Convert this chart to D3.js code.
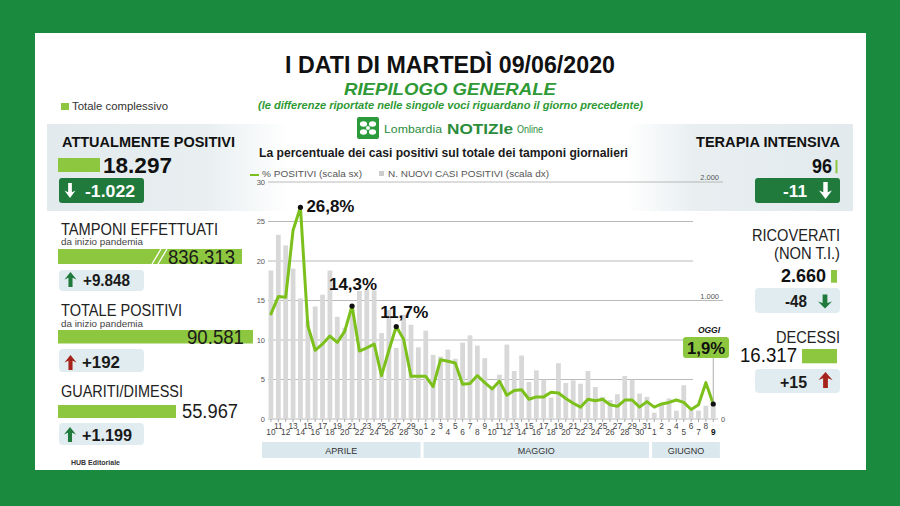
<!DOCTYPE html>
<html>
<head>
<meta charset="utf-8">
<script src="https://cdn.jsdelivr.net/npm/d3@7"></script>
<style>
  body { margin: 0; background: #1a8a3e; }
  svg { display: block; font-family: "Liberation Sans", Arial, sans-serif; }
</style>
</head>
<body>
<svg id="chart" width="900" height="506"></svg>
<script>
// day labels 10 apr -> 9 jun
const days = [10,11,12,13,14,15,16,17,18,19,20,21,22,23,24,25,26,27,28,29,30,
  1,2,3,4,5,6,7,8,9,10,11,12,13,14,15,16,17,18,19,20,21,22,23,24,25,26,27,28,29,30,31,
  1,2,3,4,5,6,7,8,9];

// new positive cases (right scale)
const newCases = [1253,1554,1465,1269,1018,829,949,1049,1253,862,770,963,1080,1095,1085,725,920,600,880,795,605,
  745,541,527,586,508,644,706,619,513,275,374,628,405,536,312,410,332,181,471,304,326,298,405,270,187,160,209,363,332,215,187,
  53,131,173,70,285,75,70,112,115];

// % positives on daily swabs (left scale)
const pctPositive = [13.3,15.5,15.4,23.9,26.8,11.8,8.7,9.5,10.5,9.7,11.1,14.3,8.6,9.0,9.5,5.5,8.7,11.7,10.1,5.4,5.4,
  5.4,4.1,7.5,7.3,7.1,4.4,4.5,5.5,4.6,3.8,4.8,3.0,3.6,3.7,2.5,2.8,2.8,3.4,3.3,2.6,2.0,1.5,2.5,2.3,2.5,1.8,1.6,2.4,2.4,1.5,2.2,
  1.5,1.9,2.1,2.4,2.1,1.2,1.8,4.6,1.9];

const months = ['APRILE', 'MAGGIO', 'GIUGNO'];
const monthFirst = [0, 21, 52];
const monthLast = [20, 51, 60];

const leftTicks = [0, 5, 10, 15, 20, 25, 30];
const rightTicks = [0, 1000, 2000];

const peaks = [4, 11, 17];
const peakLabels = ['26,8%', '14,3%', '11,7%'];

const svg = d3.select('#chart');
const it = d3.formatLocale({decimal: ',', thousands: '.', grouping: [3], currency: ['', '€']});
const fmt = it.format(',d');

const LIME = '#8dc63f', DARK = '#1f7a3c', RED = '#a5231b', LIGHT = '#e0ecef';

function txt(g, x, y, s, o) {
  const t = g.append('text').attr('x', x).attr('y', y).text(s);
  for (const k in o) t.attr(k, o[k]);
  return t;
}

// arrow: dir 1 = up, -1 = down
function arrow(g, cx, cy, dir, color, w, h) {
  const hw = w / 2, sw = w * 0.17, hh = h * 0.5;
  const pts = [[0, -h/2], [hw, -h/2 + hh], [sw, -h/2 + hh*0.78], [sw, h/2],
               [-sw, h/2], [-sw, -h/2 + hh*0.78], [-hw, -h/2 + hh]];
  g.append('path')
    .attr('d', 'M' + pts.map(p => [cx + p[0], cy + p[1] * dir].join(',')).join('L') + 'Z')
    .attr('fill', color);
}

// white card
svg.append('rect').attr('x', 35).attr('y', 33).attr('width', 831).attr('height', 437).attr('fill', '#fff');

// grey band behind the top boxes
const defs = svg.append('defs');
const grad = defs.append('linearGradient').attr('id', 'band');
[[0, '#e2eaed'], [0.2, '#e9eff1'], [0.3, '#fff'], [0.72, '#fff'], [0.8, '#e9eff1'], [1, '#e2eaed']]
  .forEach(s => grad.append('stop').attr('offset', s[0]).attr('stop-color', s[1]));
svg.append('rect').attr('x', 47).attr('y', 124).attr('width', 806).attr('height', 87).attr('fill', 'url(#band)');

// titles
txt(svg, 285, 72.5, 'I DATI DI MARTEDÌ 09/06/2020', {'font-size': 23, 'font-weight': 'bold', fill: '#111', textLength: 330, lengthAdjust: 'spacingAndGlyphs'});
txt(svg, 344, 95, 'RIEPILOGO GENERALE', {'font-size': 17, 'font-weight': 'bold', 'font-style': 'italic', fill: '#2f9a35', textLength: 212, lengthAdjust: 'spacingAndGlyphs'});
txt(svg, 258, 109, '(le differenze riportate nelle singole voci riguardano il giorno precedente)', {'font-size': 10.5, 'font-weight': 'bold', 'font-style': 'italic', fill: '#2f9a35', textLength: 385, lengthAdjust: 'spacingAndGlyphs'});

// logo
svg.append('rect').attr('x', 357).attr('y', 117).attr('width', 22).attr('height', 22).attr('rx', 2).attr('fill', '#2b9a3a');
[[-4.5, -4], [4.5, -4], [-4.5, 4], [4.5, 4]].forEach(o => {
  svg.append('ellipse').attr('cx', 368 + o[0]).attr('cy', 128 + o[1]).attr('rx', 3.6).attr('ry', 2.8).attr('fill', '#fff');
});
svg.append('circle').attr('cx', 368).attr('cy', 128).attr('r', 2).attr('fill', '#fff');
txt(svg, 384, 133, 'Lombardia', {'font-size': 11.5, fill: '#2b8c3c', textLength: 58, lengthAdjust: 'spacingAndGlyphs'});
txt(svg, 447, 133.5, 'NOTIZIe', {'font-size': 14, 'font-weight': 'bold', fill: '#2b8c3c', textLength: 66, lengthAdjust: 'spacingAndGlyphs'});
txt(svg, 517, 133, 'Online', {'font-size': 11, fill: '#2b8c3c', textLength: 26, lengthAdjust: 'spacingAndGlyphs'});

txt(svg, 259, 157, 'La percentuale dei casi positivi sul totale dei tamponi giornalieri', {'font-size': 13, 'font-weight': 'bold', fill: '#1a1a1a', textLength: 369, lengthAdjust: 'spacingAndGlyphs'});

// legends
svg.append('rect').attr('x', 61).attr('y', 103).attr('width', 8).attr('height', 7).attr('fill', LIME);
txt(svg, 72, 110, 'Totale complessivo', {'font-size': 10.5, fill: '#333', textLength: 96, lengthAdjust: 'spacingAndGlyphs'});
svg.append('line').attr('x1', 250).attr('x2', 259).attr('y1', 175).attr('y2', 175).attr('stroke', '#7cc01c').attr('stroke-width', 2);
txt(svg, 262, 177, '% POSITIVI (scala sx)', {'font-size': 9.5, fill: '#555', textLength: 100, lengthAdjust: 'spacingAndGlyphs'});
svg.append('rect').attr('x', 379).attr('y', 171).attr('width', 5).attr('height', 5).attr('fill', '#ccc');
txt(svg, 388, 177, 'N. NUOVI CASI POSITIVI (scala dx)', {'font-size': 9.5, fill: '#555', textLength: 161, lengthAdjust: 'spacingAndGlyphs'});

// ---------- chart ----------
const xb = d3.scaleBand().domain(d3.range(days.length)).range([267.3, 716.9]).paddingInner(0.35).paddingOuter(0.17);
const yL = d3.scaleLinear().domain([0, 30]).range([419, 182]);
const yR = d3.scaleLinear().domain([0, 2000]).range([419, 182]);
const cx = i => xb(i) + xb.bandwidth() / 2;

// gridlines
const chart = svg.append('g');
chart.selectAll('line.grid').data(leftTicks).join('line')
  .attr('x1', 268)
  .attr('x2', d => (d === 15 || d === 30) ? 723 : (d === 0 ? 718 : 693))
  .attr('y1', d => yL(d)).attr('y2', d => yL(d))
  .attr('stroke', '#a8a8a8').attr('stroke-width', 0.8);

// bars
chart.selectAll('rect.bar').data(newCases).join('rect')
  .attr('x', (d, i) => xb(i))
  .attr('width', xb.bandwidth())
  .attr('y', d => yR(d))
  .attr('height', d => yR(0) - yR(d))
  .attr('fill', '#d8d8d8');

// left axis labels
const axL = chart.append('g').attr('transform', 'translate(265,0)')
  .call(d3.axisLeft(yL).tickValues(leftTicks).tickSize(0).tickPadding(0));
axL.select('.domain').remove();
axL.selectAll('text').attr('font-size', 7.5).attr('fill', '#555').attr('font-family', '"Liberation Sans", Arial, sans-serif');

// right axis labels
const axR = chart.append('g').attr('transform', 'translate(700,0)')
  .call(d3.axisRight(yR).tickValues(rightTicks).tickFormat(fmt).tickSize(0).tickPadding(0));
axR.select('.domain').remove();
axR.selectAll('text')
  .attr('font-size', 7.5).attr('fill', '#555').attr('font-family', '"Liberation Sans", Arial, sans-serif')
  .attr('text-anchor', d => d === 0 ? 'start' : 'end')
  .attr('x', d => d === 0 ? 21 : 19)
  .attr('dy', d => d === 0 ? '0.32em' : '-2.5');

// x axis
const axX = chart.append('g').attr('transform', 'translate(0,419)')
  .call(d3.axisBottom(xb).tickFormat(i => days[i]).tickSize(3));
axX.select('.domain').remove();
axX.selectAll('.tick line').attr('stroke', '#777').attr('stroke-width', 0.6);
axX.selectAll('text')
  .attr('font-size', 8.3).attr('font-family', '"Liberation Sans", Arial, sans-serif')
  .attr('dy', 0)
  .attr('y', i => i % 2 === 1 ? 9.5 : 15.5)
  .attr('font-weight', i => i === days.length - 1 ? 'bold' : 'normal')
  .attr('fill', i => i === days.length - 1 ? '#111' : '#444');

// month bands
months.forEach((m, k) => {
  const x0 = (k === 0 ? 262 : xb(monthFirst[k]) - xb.step() * 0.175 + 1.5);
  const x1 = xb(monthLast[k]) + xb.bandwidth() + xb.step() * 0.175 + (k === 2 ? 3 : -1.5);
  chart.append('rect').attr('x', x0).attr('y', 442).attr('width', x1 - x0).attr('height', 16).attr('fill', '#dbe9ee');
  txt(chart, (x0 + x1) / 2, 453.5, m, {'font-size': 9, fill: '#333', 'text-anchor': 'middle'});
});

// % line
const line = d3.line().x((d, i) => cx(i)).y(d => yL(d));
chart.append('path').datum(pctPositive)
  .attr('d', line).attr('fill', 'none')
  .attr('stroke', '#7cc01c').attr('stroke-width', 3)
  .attr('stroke-linejoin', 'round').attr('stroke-linecap', 'round');

// OGGI box and connector
const last = pctPositive.length - 1;
chart.append('line').attr('x1', cx(last)).attr('x2', cx(last)).attr('y1', 358).attr('y2', yL(pctPositive[last]))
  .attr('stroke', '#999').attr('stroke-width', 0.8);
chart.append('rect').attr('x', 683).attr('y', 337).attr('width', 46).attr('height', 21).attr('rx', 3).attr('fill', LIME);
txt(chart, 706, 354, '1,9%', {'font-size': 17, 'font-weight': 'bold', fill: '#111', 'text-anchor': 'middle', textLength: 38, lengthAdjust: 'spacingAndGlyphs'});
txt(chart, 709, 333, 'OGGI', {'font-size': 8.5, 'font-weight': 'bold', 'font-style': 'italic', fill: '#111', 'text-anchor': 'middle'});

// peak dots + labels
const lblPos = [[6, 5, 'start'], [1, -16, 'middle'], [8, -8.5, 'middle']];
peaks.forEach((p, k) => {
  chart.append('circle').attr('cx', cx(p)).attr('cy', yL(pctPositive[p])).attr('r', 2.6).attr('fill', '#111');
  txt(chart, cx(p) + lblPos[k][0], yL(pctPositive[p]) + lblPos[k][1], peakLabels[k],
    {'font-size': 17, 'font-weight': 'bold', fill: '#111', 'text-anchor': lblPos[k][2], textLength: 48, lengthAdjust: 'spacingAndGlyphs'});
});
chart.append('circle').attr('cx', cx(last)).attr('cy', yL(pctPositive[last])).attr('r', 2.6).attr('fill', '#111');

// ---------- left panel ----------
const L = svg.append('g');
txt(L, 62, 146.7, 'ATTUALMENTE POSITIVI', {'font-size': 14, 'font-weight': 'bold', fill: '#111', textLength: 173, lengthAdjust: 'spacingAndGlyphs'});
L.append('rect').attr('x', 58).attr('y', 158).attr('width', 42).attr('height', 14).attr('fill', LIME);
txt(L, 103, 172.7, '18.297', {'font-size': 22, 'font-weight': 'bold', fill: '#111', textLength: 69, lengthAdjust: 'spacingAndGlyphs'});
L.append('rect').attr('x', 59).attr('y', 178).attr('width', 85).attr('height', 25).attr('rx', 3).attr('fill', DARK);
arrow(L, 70, 190.5, -1, '#fff', 11, 15);
txt(L, 85, 196.7, '-1.022', {'font-size': 17, 'font-weight': 'bold', fill: '#fff', textLength: 50, lengthAdjust: 'spacingAndGlyphs'});

txt(L, 61, 235, 'TAMPONI EFFETTUATI', {'font-size': 16, fill: '#222', textLength: 157, lengthAdjust: 'spacingAndGlyphs'});
txt(L, 61, 245, 'da inizio pandemia', {'font-size': 9.3, fill: '#444', textLength: 82, lengthAdjust: 'spacingAndGlyphs'});
L.append('rect').attr('x', 58).attr('y', 249).attr('width', 184).attr('height', 15).attr('fill', LIME);
[152, 158].forEach(x => L.append('line').attr('x1', x).attr('y1', 264).attr('x2', x + 9).attr('y2', 249).attr('stroke', '#fff').attr('stroke-width', 1.3));
txt(L, 168, 263.5, '836.313', {'font-size': 19.5, fill: '#1a1a1a', textLength: 67, lengthAdjust: 'spacingAndGlyphs'});
L.append('rect').attr('x', 59).attr('y', 270).attr('width', 85).attr('height', 21).attr('rx', 4).attr('fill', LIGHT);
arrow(L, 70.5, 279.5, 1, DARK, 12, 15);
txt(L, 83, 285.5, '+9.848', {'font-size': 16, 'font-weight': 'bold', fill: '#1a1a1a', textLength: 47, lengthAdjust: 'spacingAndGlyphs'});

txt(L, 61, 316, 'TOTALE POSITIVI', {'font-size': 16, fill: '#222', textLength: 121, lengthAdjust: 'spacingAndGlyphs'});
txt(L, 61, 326.5, 'da inizio pandemia', {'font-size': 9.3, fill: '#444', textLength: 82, lengthAdjust: 'spacingAndGlyphs'});
L.append('rect').attr('x', 58).attr('y', 330).attr('width', 195).attr('height', 13.5).attr('fill', LIME);
txt(L, 187, 344, '90.581', {'font-size': 19.5, fill: '#1a1a1a', textLength: 57, lengthAdjust: 'spacingAndGlyphs'});
L.append('rect').attr('x', 59).attr('y', 349).attr('width', 85).attr('height', 23).attr('rx', 4).attr('fill', LIGHT);
arrow(L, 70.5, 362.5, 1, RED, 12, 15);
txt(L, 82, 367.5, '+192', {'font-size': 16, 'font-weight': 'bold', fill: '#1a1a1a', textLength: 38, lengthAdjust: 'spacingAndGlyphs'});

txt(L, 61, 397, 'GUARITI/DIMESSI', {'font-size': 16, fill: '#222', textLength: 122, lengthAdjust: 'spacingAndGlyphs'});
L.append('rect').attr('x', 58).attr('y', 405).attr('width', 118).attr('height', 13).attr('fill', LIME);
txt(L, 182, 417.5, '55.967', {'font-size': 19.5, fill: '#1a1a1a', textLength: 56, lengthAdjust: 'spacingAndGlyphs'});
L.append('rect').attr('x', 59).attr('y', 423).attr('width', 85).attr('height', 22).attr('rx', 4).attr('fill', LIGHT);
arrow(L, 70, 434.5, 1, DARK, 12, 15);
txt(L, 82, 440.5, '+1.199', {'font-size': 16, 'font-weight': 'bold', fill: '#1a1a1a', textLength: 50, lengthAdjust: 'spacingAndGlyphs'});

txt(L, 71, 465, 'HUB Editoriale', {'font-size': 6.5, 'font-weight': 'bold', fill: '#333', textLength: 49, lengthAdjust: 'spacingAndGlyphs'});

// ---------- right panel ----------
const R = svg.append('g');
txt(R, 696, 147.3, 'TERAPIA INTENSIVA', {'font-size': 14, 'font-weight': 'bold', fill: '#111', textLength: 144, lengthAdjust: 'spacingAndGlyphs'});
txt(R, 812, 173.3, '96', {'font-size': 20, 'font-weight': 'bold', fill: '#111', textLength: 20, lengthAdjust: 'spacingAndGlyphs'});
R.append('rect').attr('x', 835.5).attr('y', 160).attr('width', 2).attr('height', 13.3).attr('fill', LIME);
R.append('rect').attr('x', 755).attr('y', 178).attr('width', 85).attr('height', 25).attr('rx', 3).attr('fill', DARK);
txt(R, 783, 196.5, '-11', {'font-size': 17, 'font-weight': 'bold', fill: '#fff', textLength: 24, lengthAdjust: 'spacingAndGlyphs'});
arrow(R, 825.5, 190.5, -1, '#fff', 13, 17);

txt(R, 752, 240.7, 'RICOVERATI', {'font-size': 16, fill: '#222', textLength: 88, lengthAdjust: 'spacingAndGlyphs'});
txt(R, 774, 259, '(NON T.I.)', {'font-size': 16, fill: '#222', textLength: 66, lengthAdjust: 'spacingAndGlyphs'});
txt(R, 781, 281.7, '2.660', {'font-size': 19, 'font-weight': 'bold', fill: '#111', textLength: 45, lengthAdjust: 'spacingAndGlyphs'});
R.append('rect').attr('x', 831).attr('y', 270).attr('width', 6).attr('height', 12.7).attr('fill', LIME);
R.append('rect').attr('x', 755).attr('y', 288).attr('width', 85).attr('height', 25).attr('rx', 4).attr('fill', LIGHT);
txt(R, 785, 306.7, '-48', {'font-size': 16, 'font-weight': 'bold', fill: '#1a1a1a', textLength: 22, lengthAdjust: 'spacingAndGlyphs'});
arrow(R, 825, 301.5, -1, DARK, 14, 14);

txt(R, 776, 342.7, 'DECESSI', {'font-size': 16, fill: '#222', textLength: 64, lengthAdjust: 'spacingAndGlyphs'});
txt(R, 740, 362.3, '16.317', {'font-size': 21, fill: '#111', textLength: 57, lengthAdjust: 'spacingAndGlyphs'});
R.append('rect').attr('x', 802).attr('y', 349).attr('width', 35).attr('height', 14.3).attr('fill', LIME);
R.append('rect').attr('x', 755).attr('y', 369).attr('width', 85).attr('height', 24).attr('rx', 4).attr('fill', LIGHT);
txt(R, 780, 388, '+15', {'font-size': 16, 'font-weight': 'bold', fill: '#1a1a1a', textLength: 27, lengthAdjust: 'spacingAndGlyphs'});
arrow(R, 825.5, 380, 1, RED, 14, 16);
</script>
</body>
</html>
